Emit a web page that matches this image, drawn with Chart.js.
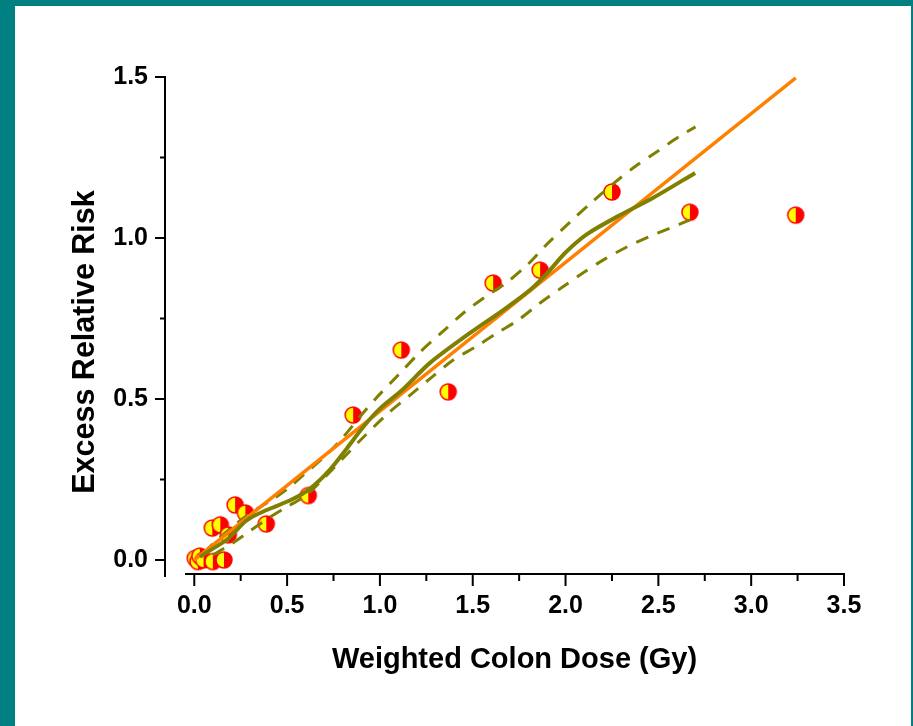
<!DOCTYPE html>
<html>
<head>
<meta charset="utf-8">
<script src="https://cdn.jsdelivr.net/npm/chart.js@4.4.1/dist/chart.umd.min.js"></script>
<style>
  html, body { margin: 0; padding: 0; }
  body { width: 913px; height: 726px; background: #008080; position: relative; overflow: hidden; }
  #panel { position: absolute; left: 15px; top: 6px; width: 896px; height: 720px; background: #ffffff; }
  canvas { display: block; }
</style>
</head>
<body>
<div id="panel"><canvas id="c" width="896" height="720"></canvas></div>
<script>
// ---- data ----
const doseX = [0.005, 0.02, 0.03, 0.05, 0.10, 0.16, 0.097, 0.14, 0.183, 0.22, 0.275, 0.388, 0.614, 0.856, 1.115, 1.368, 1.61, 1.863, 2.25, 2.67, 3.24];
const errY  = [0.005, -0.005, 0.012, 0.0, -0.005, 0.0, 0.099, 0.109, 0.078, 0.171, 0.146, 0.112, 0.20, 0.45, 0.652, 0.522, 0.86, 0.90, 1.143, 1.08, 1.071];

const fitX = [0, 3.24];
const fitY = [0, 1.497];

const smoothX = [0.03, 0.10, 0.18, 0.285, 0.39, 0.52, 0.62, 0.73, 0.82, 0.91, 1.00, 1.12, 1.27, 1.486, 1.664, 1.81, 1.90, 2.00, 2.116, 2.294, 2.47, 2.698];
const smoothY = [0.01, 0.035, 0.065, 0.124, 0.155, 0.186, 0.22, 0.28, 0.345, 0.413, 0.47, 0.528, 0.612, 0.705, 0.776, 0.839, 0.89, 0.955, 1.012, 1.071, 1.124, 1.202];

const upperX = [0.05, 0.10, 0.20, 0.30, 0.40, 0.50, 0.60, 0.70, 0.80, 0.90, 0.985, 1.10, 1.217, 1.336, 1.45, 1.567, 1.686, 1.80, 1.89, 2.025, 2.13, 2.256, 2.375, 2.49, 2.61, 2.70];
const upperY = [0.02, 0.05, 0.10, 0.145, 0.18, 0.22, 0.27, 0.32, 0.38, 0.45, 0.506, 0.575, 0.646, 0.708, 0.767, 0.817, 0.863, 0.92, 0.975, 1.05, 1.105, 1.168, 1.222, 1.267, 1.314, 1.345];

const lowerX = [0.10, 0.20, 0.30, 0.40, 0.50, 0.60, 0.70, 0.80, 0.90, 1.045, 1.163, 1.28, 1.395, 1.513, 1.632, 1.745, 1.863, 1.98, 2.095, 2.213, 2.33, 2.445, 2.56, 2.67];
const lowerY = [0.015, 0.05, 0.09, 0.13, 0.165, 0.20, 0.255, 0.315, 0.375, 0.456, 0.512, 0.568, 0.621, 0.661, 0.705, 0.745, 0.798, 0.846, 0.892, 0.935, 0.972, 1.003, 1.03, 1.056];

const xTicks = [0.0, 0.5, 1.0, 1.5, 2.0, 2.5, 3.0, 3.5];
const yTicks = [0.0, 0.5, 1.0, 1.5];
const xMinor = [0.25, 0.75, 1.25, 1.75, 2.25, 2.75, 3.25];
const yMinor = [0.25, 0.75, 1.25];

const xTitle = 'Weighted Colon Dose (Gy)';
const yTitle = 'Excess Relative Risk';

// ---- helpers ----
const pairs = (xs, ys) => xs.map((x, i) => ({ x: x, y: ys[i] }));
const FONT = '"Liberation Sans", Arial, sans-serif';

// half-yellow / half-red marker
function makeMarker(r) {
  const size = 2 * r + 4;
  const cv = document.createElement('canvas');
  cv.width = size; cv.height = size;
  const g = cv.getContext('2d');
  const c = size / 2;
  g.fillStyle = '#FFFF00';
  g.beginPath(); g.arc(c, c, r, Math.PI / 2, 3 * Math.PI / 2); g.closePath(); g.fill();
  g.fillStyle = '#FF0000';
  g.beginPath(); g.arc(c, c, r, -Math.PI / 2, Math.PI / 2); g.closePath(); g.fill();
  g.strokeStyle = '#FF0000'; g.lineWidth = 1.5;
  g.beginPath(); g.arc(c, c, r, 0, 2 * Math.PI); g.stroke();
  return cv;
}
const marker = makeMarker(8);

const axesPlugin = {
  id: 'customAxes',
  beforeDatasetsDraw(chart) {
    const ctx = chart.ctx;
    const xs = chart.scales.x, ys = chart.scales.y;
    const yAxisX = xs.left - 20;
    const xAxisY = ys.bottom - 3;
    ctx.save();
    ctx.strokeStyle = '#000000';
    ctx.lineWidth = 2;
    ctx.lineCap = 'butt';
    ctx.beginPath();
    // y axis
    ctx.moveTo(yAxisX, ys.getPixelForValue(1.5) - 1);
    ctx.lineTo(yAxisX, ys.bottom);
    yTicks.forEach(v => { const p = ys.getPixelForValue(v); ctx.moveTo(yAxisX, p); ctx.lineTo(yAxisX - 10, p); });
    yMinor.forEach(v => { const p = ys.getPixelForValue(v); ctx.moveTo(yAxisX, p); ctx.lineTo(yAxisX - 5, p); });
    // x axis
    ctx.moveTo(xs.left, xAxisY);
    ctx.lineTo(xs.getPixelForValue(3.5) + 1, xAxisY);
    xTicks.forEach(v => { const p = xs.getPixelForValue(v); ctx.moveTo(p, xAxisY); ctx.lineTo(p, xAxisY + 12); });
    xMinor.forEach(v => { const p = xs.getPixelForValue(v); ctx.moveTo(p, xAxisY); ctx.lineTo(p, xAxisY + 7); });
    ctx.stroke();

    // titles
    ctx.fillStyle = '#000000';
    ctx.textAlign = 'center';
    ctx.textBaseline = 'alphabetic';
    ctx.font = 'bold 29px ' + FONT;
    ctx.fillText(xTitle, (xs.left + xs.right) / 2, 662);
    ctx.font = 'bold 30.5px ' + FONT;
    ctx.translate(79, 336);
    ctx.rotate(-Math.PI / 2);
    ctx.fillText(yTitle, 0, 0);
    ctx.restore();
  }
};

const lineDs = (label, xs, ys, color, width, dash, tension) => ({
  type: 'line', label: label, data: pairs(xs, ys),
  borderColor: color, backgroundColor: color, borderWidth: width,
  borderDash: dash, pointRadius: 0, fill: false,
  tension: tension, cubicInterpolationMode: 'default',
  borderCapStyle: 'butt', borderJoinStyle: 'round'
});

new Chart(document.getElementById('c'), {
  type: 'scatter',
  data: {
    datasets: [
      lineDs('Smoothed', smoothX, smoothY, '#808000', 4, [], 0.3),
      lineDs('Linear fit', fitX, fitY, '#FF8000', 3.5, [], 0),
      lineDs('Upper', upperX, upperY, '#808000', 3, [13, 10], 0.3),
      lineDs('Lower', lowerX, lowerY, '#808000', 3, [13, 10], 0.3),
      {
        type: 'scatter', label: 'ERR', data: pairs(doseX, errY),
        pointStyle: marker, pointRadius: 9, pointHoverRadius: 9
      }
    ]
  },
  options: {
    responsive: false,
    animation: false,
    events: [],
    layout: { padding: { left: 0, right: 67, top: 71, bottom: 0 } },
    plugins: { legend: { display: false }, tooltip: { enabled: false } },
    scales: {
      x: {
        type: 'linear', min: -0.05, max: 3.5,
        grid: { display: false, drawTicks: false },
        border: { display: false },
        afterBuildTicks: s => { s.ticks = xTicks.map(v => ({ value: v })); },
        afterFit: s => { s.height = 149; },
        ticks: {
          color: '#000', padding: 14, maxRotation: 0, autoSkip: false,
          font: { family: FONT, size: 25, weight: 'bold' },
          callback: v => Number(v).toFixed(1)
        }
      },
      y: {
        type: 'linear', min: -0.053, max: 1.5,
        grid: { display: false, drawTicks: false },
        border: { display: false },
        afterBuildTicks: s => { s.ticks = yTicks.map(v => ({ value: v })); },
        afterFit: s => { s.width = 170; },
        ticks: {
          color: '#000', padding: 37, autoSkip: false,
          font: { family: FONT, size: 25, weight: 'bold' },
          callback: v => Number(v).toFixed(1)
        }
      }
    }
  },
  plugins: [axesPlugin]
});
</script>
</body>
</html>
